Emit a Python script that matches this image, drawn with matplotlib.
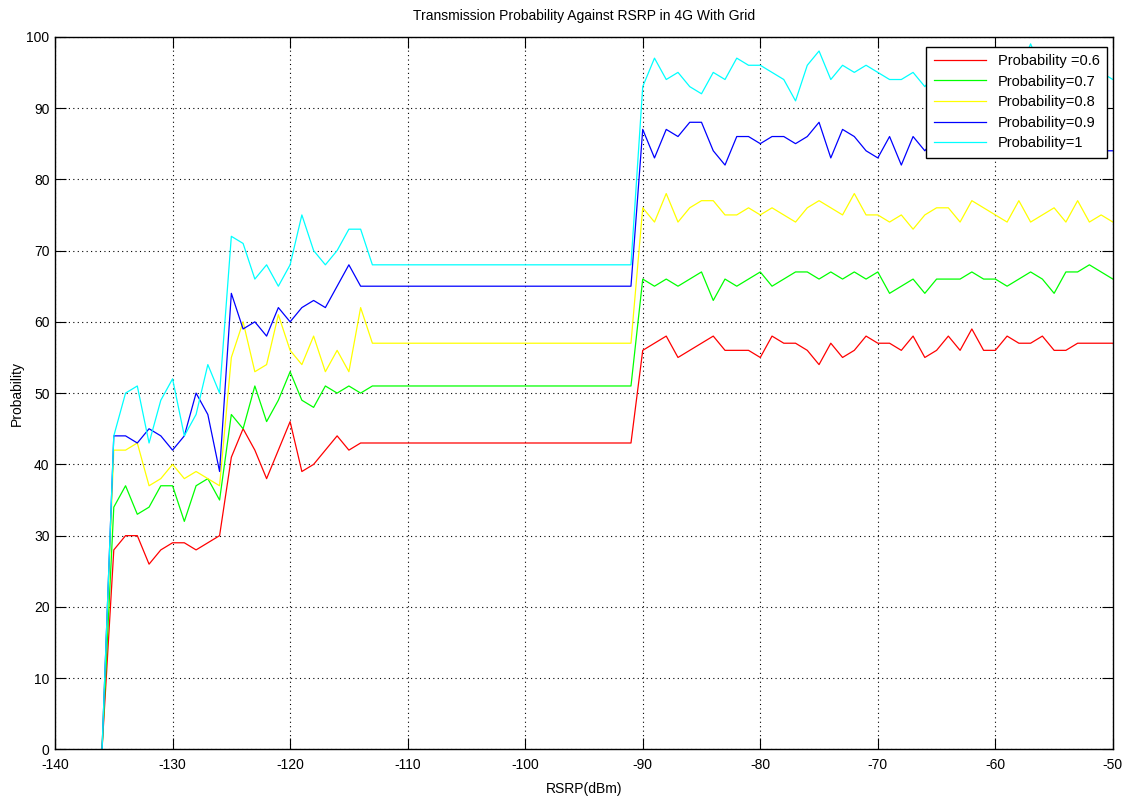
import matplotlib
matplotlib.use("Agg")
import matplotlib.pyplot as plt

# -------------------------------------------------------
# DATA
# -------------------------------------------------------
rsrp = list(range(-136, -49))

flat = 22  # -112 .. -91 the curves stay level

prob_06 = ([0, 28, 30, 30, 26, 28, 29, 29, 28, 29, 30, 41, 45, 42, 38, 42, 46, 39,
            40, 42, 44, 42, 43, 43] + [43] * flat +
           [56, 57, 58, 55, 56, 57, 58, 56, 56, 56, 55, 58, 57, 57, 56, 54, 57, 55,
            56, 58, 57, 57, 56, 58, 55, 56, 58, 56, 59, 56, 56, 58, 57, 57, 58, 56,
            56, 57, 57, 57, 57])

prob_07 = ([0, 34, 37, 33, 34, 37, 37, 32, 37, 38, 35, 47, 45, 51, 46, 49, 53, 49,
            48, 51, 50, 51, 50, 51] + [51] * flat +
           [66, 65, 66, 65, 66, 67, 63, 66, 65, 66, 67, 65, 66, 67, 67, 66, 67, 66,
            67, 66, 67, 64, 65, 66, 64, 66, 66, 66, 67, 66, 66, 65, 66, 67, 66, 64,
            67, 67, 68, 67, 66])

prob_08 = ([0, 42, 42, 43, 37, 38, 40, 38, 39, 38, 37, 55, 60, 53, 54, 61, 56, 54,
            58, 53, 56, 53, 62, 57] + [57] * flat +
           [76, 74, 78, 74, 76, 77, 77, 75, 75, 76, 75, 76, 75, 74, 76, 77, 76, 75,
            78, 75, 75, 74, 75, 73, 75, 76, 76, 74, 77, 76, 75, 74, 77, 74, 75, 76,
            74, 77, 74, 75, 74])

prob_09 = ([0, 44, 44, 43, 45, 44, 42, 44, 50, 47, 39, 64, 59, 60, 58, 62, 60, 62,
            63, 62, 65, 68, 65, 65] + [65] * flat +
           [87, 83, 87, 86, 88, 88, 84, 82, 86, 86, 85, 86, 86, 85, 86, 88, 83, 87,
            86, 84, 83, 86, 82, 86, 84, 86, 83, 86, 85, 84, 86, 85, 84, 86, 85, 84,
            86, 85, 84, 84, 84])

prob_10 = ([0, 44, 50, 51, 43, 49, 52, 44, 47, 54, 50, 72, 71, 66, 68, 65, 68, 75,
            70, 68, 70, 73, 73, 68] + [68] * flat +
           [93, 97, 94, 95, 93, 92, 95, 94, 97, 96, 96, 95, 94, 91, 96, 98, 94, 96,
            95, 96, 95, 94, 94, 95, 93, 95, 93, 93, 94, 95, 94, 96, 95, 99, 95, 94,
            96, 95, 95, 95, 94])

series = [
    (prob_06, "Probability =0.6", (1, 0, 0)),
    (prob_07, "Probability=0.7", (0, 1, 0)),
    (prob_08, "Probability=0.8", (1, 1, 0)),
    (prob_09, "Probability=0.9", (0, 0, 1)),
    (prob_10, "Probability=1", (0, 1, 1)),
]

# -------------------------------------------------------
# PLOT
# -------------------------------------------------------
plt.rcParams["font.family"] = ["Liberation Sans", "DejaVu Sans"]
plt.rcParams["font.size"] = 10
plt.rcParams["axes.unicode_minus"] = False

fig = plt.figure(figsize=(11.23, 7.99), dpi=100)
ax = fig.add_axes([0.049, 0.062, 0.942, 0.892])

for vals, label, color in series:
    ax.plot(rsrp, vals, color=color, linewidth=0.9, label=label)

ax.set_xlim(-140, -50)
ax.set_ylim(0, 100)
ax.set_xticks(range(-140, -49, 10))
ax.set_yticks(range(0, 101, 10))

ax.grid(True, color="black", linestyle=(0, (1, 3)), linewidth=0.8)
ax.tick_params(direction="in", length=8, width=0.8, top=True, right=True,
               labelsize=10)
ax.tick_params(axis="x", pad=6)
ax.tick_params(axis="y", pad=4)
for s in ax.spines.values():
    s.set_linewidth(1.0)

ax.set_title("Transmission Probability Against RSRP in 4G With Grid", fontsize=10, pad=12)
ax.set_xlabel("RSRP(dBm)", fontsize=10, labelpad=7)
ax.set_ylabel("Probability", fontsize=10, labelpad=2)

leg = ax.legend(loc="upper right", bbox_to_anchor=(0.9943, 0.986), borderaxespad=0,
                fancybox=False, framealpha=1, edgecolor="black", fontsize=10.5,
                handlelength=3.6, labelspacing=0.45, borderpad=0.5)
leg.get_frame().set_linewidth(1.0)

plt.savefig("out.png", dpi=100)
plt.close()
